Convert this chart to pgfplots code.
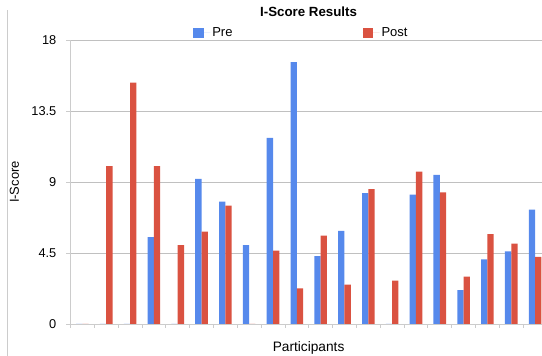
\documentclass[border=0pt]{standalone}
\usepackage{fontspec}
\setmainfont{Liberation Sans}
\usepackage{pgfplots}
\pgfplotsset{compat=1.18}

\definecolor{preblue}{RGB}{86,137,236}
\definecolor{postred}{RGB}{218,82,65}
\definecolor{gridgray}{RGB}{192,192,192}
\definecolor{axisgray}{RGB}{204,204,204}

\begin{document}
\begin{tikzpicture}[x=1pt,y=1pt]
\clip (0,0) rectangle (542,356);
% outer chart frame on the left
\draw[axisgray, line width=0.9pt] (7,0) -- (7,346);
\begin{axis}[
  at={(70.5pt,32pt)}, anchor=south west,
  scale only axis, width=471.5pt, height=284pt,
  ymin=0, ymax=18, xmin=-0.5, xmax=19.29,
  ybar=0pt, bar width=6.3pt,
  axis x line*=bottom, axis y line*=left,
  axis line style={axisgray, line width=0.9pt},
  ytick={0,4.5,9,13.5,18},
  xtick={-0.5,0.5,...,18.5}, xticklabels={},
  tick style={axisgray, line width=0.8pt},
  tick align=outside,
  major tick length=4pt,
  ymajorgrids, grid style={gridgray, line width=0.8pt},
  /pgf/number format/assume math mode=true,
  tick label style={font=\fontsize{12.8}{14}\selectfont},
  yticklabel style={inner sep=0pt, anchor=east, xshift=-10pt},
  title={I-Score Results},
  title style={at={(axis description cs:0.505,1.062)}, anchor=base,
    font=\fontsize{13.3}{16}\selectfont\bfseries, inner sep=0pt},
  xlabel={Participants},
  xlabel style={at={(axis description cs:0.505,-0.097)}, anchor=base,
    font=\fontsize{13.7}{16}\selectfont, inner sep=0pt},
  ylabel={I-Score},
  ylabel style={at={(axis description cs:-0.119,0.5)}, anchor=center,
    font=\fontsize{13}{15}\selectfont, inner sep=0pt},
  legend columns=2,
  legend style={at={(axis description cs:0.2600,1.025)}, anchor=west,
    draw=none, fill=none, inner sep=0pt,
    font=\fontsize{13}{15}\selectfont},
  legend cell align=left,
]
\addplot[fill=preblue, draw=none,
  legend image code/.code={\fill[preblue] (0pt,-5.2pt) rectangle (10.5pt,5.2pt);
    \path (0pt,0pt) -- (17pt,0pt);}]
  coordinates {
  (0,0) (1,0) (2,0) (3,5.5) (4,0) (5,9.2) (6,7.75) (7,5.0) (8,11.8) (9,16.6)
  (10,4.3) (11,5.9) (12,8.3) (13,0) (14,8.2) (15,9.45) (16,2.15) (17,4.1)
  (18,4.6) (19,7.25)};
\addlegendentry{Pre\hspace*{128pt}}
\addplot[fill=postred, draw=none,
  legend image code/.code={\fill[postred] (0pt,-5.2pt) rectangle (10.5pt,5.2pt);
    \path (0pt,0pt) -- (17pt,0pt);}]
  coordinates {
  (0,0) (1,10) (2,15.3) (3,10) (4,5.0) (5,5.85) (6,7.5) (7,0) (8,4.65) (9,2.25)
  (10,5.6) (11,2.5) (12,8.55) (13,2.75) (14,9.65) (15,8.35) (16,3.0) (17,5.7)
  (18,5.1) (19,4.25)};
\addlegendentry{Post}
\end{axis}
\end{tikzpicture}
\end{document}
